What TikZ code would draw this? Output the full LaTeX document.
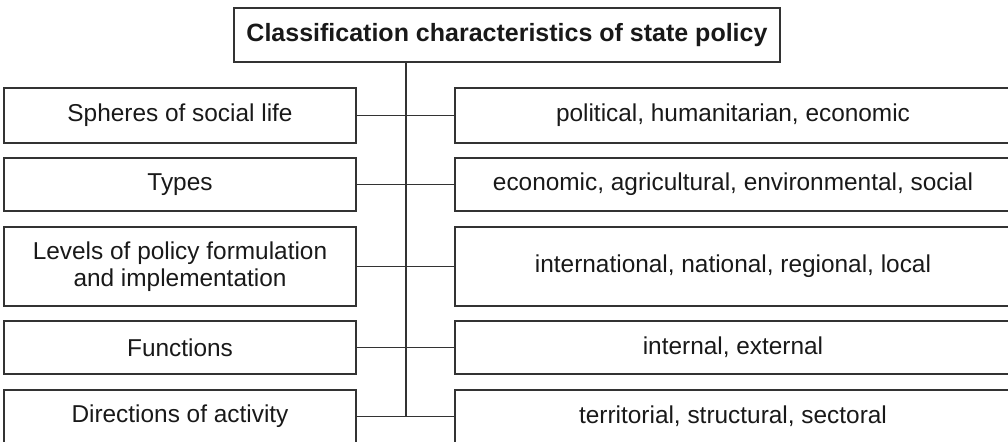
\documentclass[tikz,border=0pt]{standalone}
\usepackage{fontspec}
\setmainfont{Liberation Sans}

\begin{document}
\begin{tikzpicture}[-,x=0.5pt,y=-0.5pt,thick,draw=black!80,
    box/.style={draw=black!80,text=black!90,align=center,inner sep=0pt,font=\fontsize{12.2}{13.7}\selectfont},
    left box/.style={box,minimum width=176pt,minimum height=26.5pt},
    right box/.style={box,minimum width=278pt,minimum height=26.5pt}]

            \clip (0,0) rectangle (1008,441);

            \node[box, minimum width=273pt, minimum height=27pt, font=\fontsize{12.5}{14}\selectfont\bfseries] (t) at (507,35) {Classification characteristics of state policy};

            \node[left box, minimum height=27.5pt] (l1) at (180,115.5) {Spheres of social life};
            \node[right box, minimum height=27.5pt] (r1) at (733,115.5) {political, humanitarian, economic};
            \node[left box] (l2) at (180,184.5) {Types};
            \node[right box] (r2) at (733,184.5) {economic, agricultural, environmental, social};
            \node[left box, minimum height=39.5pt] (l3) at (180,266.5) {Levels of policy formulation\\and implementation};
            \node[right box, minimum height=39.5pt] (r3) at (733,266.5) {international, national, regional, local};
            \node[left box] (l4) at (180,347.5) {Functions};
            \node[right box] (r4) at (733,347.5) {internal, external};
            \node[left box] (l5) at (180,416.5) {Directions of activity};
            \node[right box] (r5) at (733,416.5) {territorial, structural, sectoral};

            \coordinate (c0) at (406,62);

            \draw[-] (c0) to (c0 |- l5.east);
            \draw[-] (l1) to (r1);
            \draw[-] (l2) to (r2);
            \draw[-] (l3) to (r3);
            \draw[-] (l4) to (r4);
            \draw[-] (l5) to (r5);

        \end{tikzpicture}
\end{document}
